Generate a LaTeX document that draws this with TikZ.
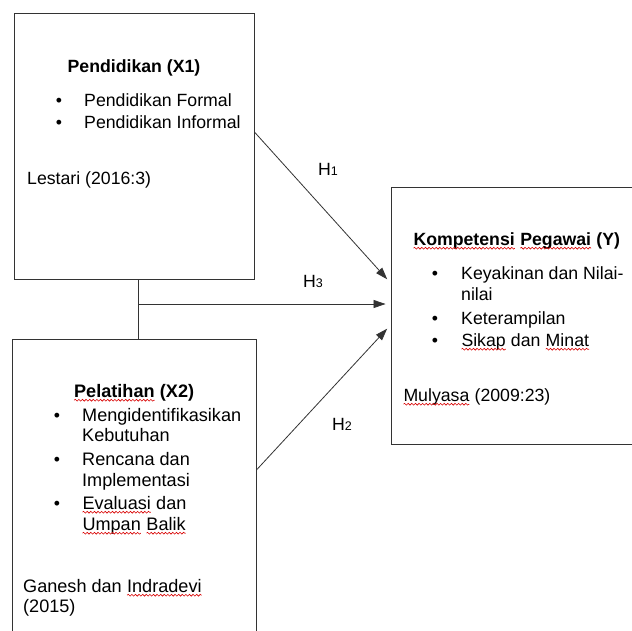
\documentclass[tikz,border=0pt]{standalone}
\usepackage{fontspec}
\setmainfont{Liberation Sans}
\usetikzlibrary{arrows.meta,decorations.pathmorphing}
\tikzset{
  box/.style={draw=black!80, line width=0.9pt, rectangle, inner sep=0pt},
  txt/.style={font=\fontsize{17.7}{21}\selectfont, anchor=base west, inner sep=0pt, text=black},
  txtb/.style={txt, font=\fontsize{17.7}{21}\selectfont\bfseries},
  txtc/.style={txt, font=\fontsize{18.1}{21}\selectfont},
  bul/.style={txt, anchor=base},
  hlab/.style={txt},
  conn/.style={draw=black!80, line width=0.8pt},
  arr/.style={conn, -{Triangle[length=12pt,width=8pt]}, shorten >=5pt},
  sqline/.style={draw=red!85!black, line width=0.6pt, decorate,
    decoration={snake, amplitude=0.9pt, segment length=3.6pt}}
}
\newcommand\sqw[1]{\tikz[baseline=(sqn.base)]{\node[inner sep=0pt,outer sep=0pt](sqn){#1};\draw[sqline]([yshift=-3.2pt]sqn.base west)--([yshift=-3.2pt]sqn.base east);}}
\newcommand\hsub[2]{#1{\fontsize{12.5}{12}\selectfont #2}}
\begin{document}
\begin{tikzpicture}[x=1pt,y=-1pt]
\clip (0,0) rectangle (632,630);
\fill[white] (0,0) rectangle (632,630);
% boxes
\node[box, minimum width=240pt, minimum height=266pt] (x1) at (134,146) {};
\node[box, minimum width=244pt, minimum height=321pt] (x2) at (134,499.5) {};
\node[box, minimum width=269pt, minimum height=257pt] (y) at (525.5,315.5) {};
% X1 text
\node[txtb, anchor=base] (x1t) at (134,72) {Pendidikan (X1)};
\node[bul] (x1b1) at (59,106) {•};
\node[txt] (x1l1) at (84,106) {Pendidikan Formal};
\node[bul] (x1b2) at (59,128) {•};
\node[txt] (x1l2) at (84,128) {Pendidikan Informal};
\node[txt] (x1r) at (27,184) {Lestari (2016:3)};
% X2 text
\node[txtb, font=\fontsize{18.1}{21}\selectfont\bfseries, anchor=base] (x2t) at (134,397) {\sqw{Pelatihan} (X2)};
\node[bul] (x2b1) at (57,421) {•};
\node[txtc] (x2l1) at (82,421) {Mengidentifikasikan};
\node[txtc] (x2l2) at (82,441) {Kebutuhan};
\node[bul] (x2b2) at (57,465) {•};
\node[txtc] (x2l3) at (82,465) {Rencana dan};
\node[txtc] (x2l4) at (82,486) {Implementasi};
\node[bul] (x2b3) at (57,509) {•};
\node[txtc] (x2l5) at (82,509) {\sqw{Evaluasi} dan};
\node[txtc] (x2l6) at (82,530) {\sqw{Umpan} \sqw{Balik}};
\node[txtc] (x2r1) at (23,592) {Ganesh dan \sqw{Indradevi}};
\node[txtc] (x2r2) at (23,612) {(2015)};
% Y text
\node[txtb] (yt) at (413,245) {\sqw{Kompetensi} \sqw{Pegawai} (Y)};
\node[bul] (yb1) at (435,279) {•};
\node[txt] (yl1) at (461,279) {Keyakinan dan Nilai-};
\node[txt] (yl2) at (461,300) {nilai};
\node[bul] (yb2) at (435,324) {•};
\node[txt] (yl3) at (461,324) {Keterampilan};
\node[bul] (yb3) at (435,346) {•};
\node[txt] (yl4) at (461,346) {\sqw{Sikap} dan \sqw{Minat}};
\node[txt] (yr) at (403,401) {\sqw{Mulyasa} (2009:23)};
% connectors
\coordinate (j) at (138,304);
\draw[conn] ([xshift=4pt]x1.south) -- ([xshift=4pt]x2.north);
\draw[arr] ([yshift=14pt]x1.east) -- ([yshift=32.5pt]y.west);
\draw[arr] (j) -- ([yshift=11.5pt]y.west);
\draw[arr] ([yshift=29.5pt]x2.east) -- ([yshift=-9.5pt]y.west);
% labels
\node[hlab] (h1) at (318,175) {\hsub{H}{1}};
\node[hlab] (h3) at (303,287) {\hsub{H}{3}};
\node[hlab] (h2) at (332,430) {\hsub{H}{2}};
\end{tikzpicture}
\end{document}
